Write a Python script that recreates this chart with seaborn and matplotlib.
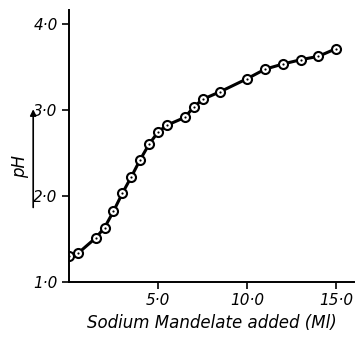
import numpy as np
import pandas as pd
import matplotlib
matplotlib.use("Agg")
import matplotlib.pyplot as plt
import seaborn as sns

# titration readings
ml_added = [0.0, 0.5, 1.5, 2.0, 2.5, 3.0, 3.5, 4.0, 4.5, 5.0, 5.5, 6.5, 7.0,
            7.5, 8.5, 10.0, 11.0, 12.0, 13.0, 14.0, 15.0]
ph = [1.30, 1.33, 1.51, 1.63, 1.82, 2.03, 2.22, 2.42, 2.60, 2.74, 2.82, 2.91,
      3.03, 3.12, 3.21, 3.36, 3.47, 3.53, 3.58, 3.62, 3.71]

x_ticks = [5.0, 10.0, 15.0]
x_ticklabels = ["5·0", "10·0", "15·0"]
y_ticks = [1.0, 2.0, 3.0, 4.0]
y_ticklabels = ["1·0", "2·0", "3·0", "4·0"]

df = pd.DataFrame({"ml": ml_added, "ph": ph})

sns.set_style("ticks")
plt.rcParams['font.family'] = ['Liberation Sans Narrow', 'DejaVu Sans']
plt.rcParams['font.style'] = 'italic'
plt.rcParams['text.color'] = 'black'
plt.rcParams['xtick.color'] = 'black'
plt.rcParams['ytick.color'] = 'black'
plt.rcParams['axes.labelcolor'] = 'black'

fig = plt.figure(figsize=(3.57, 3.38), dpi=100)
ax = fig.add_axes([0.193, 0.166, 0.799, 0.805])

sns.lineplot(data=df, x="ml", y="ph", ax=ax, color="black", lw=2.2,
             marker="o", markersize=6.5, markerfacecolor="white",
             markeredgecolor="black", markeredgewidth=1.5)
sns.scatterplot(data=df, x="ml", y="ph", ax=ax, color="black", s=2.5,
                linewidth=0, zorder=5)

ax.set_xlim(0, 16.0)
ax.set_ylim(1.0, 4.16)
ax.set_xticks(x_ticks)
ax.set_xticklabels(x_ticklabels, fontsize=11)
ax.set_yticks(y_ticks)
ax.set_yticklabels(y_ticklabels, fontsize=11)
ax.tick_params(direction="out", length=5, width=1.2, color="black", pad=3)
ax.set_xlabel("Sodium Mandelate added (Ml)", fontsize=12, labelpad=4)
ax.set_ylabel("")
for s in ["top", "right"]:
    ax.spines[s].set_visible(False)
for s in ["left", "bottom"]:
    ax.spines[s].set_linewidth(1.4)
    ax.spines[s].set_color("black")

fig.text(0.056, 0.506, "pH", rotation=90, fontsize=12, ha="center", va="center")
fig.patches.append(matplotlib.patches.FancyArrowPatch(
    (0.093, 0.378), (0.093, 0.685), transform=fig.transFigure,
    arrowstyle="-|>", mutation_scale=9, color="black", lw=1.2))

fig.savefig("out.png", dpi=100)
